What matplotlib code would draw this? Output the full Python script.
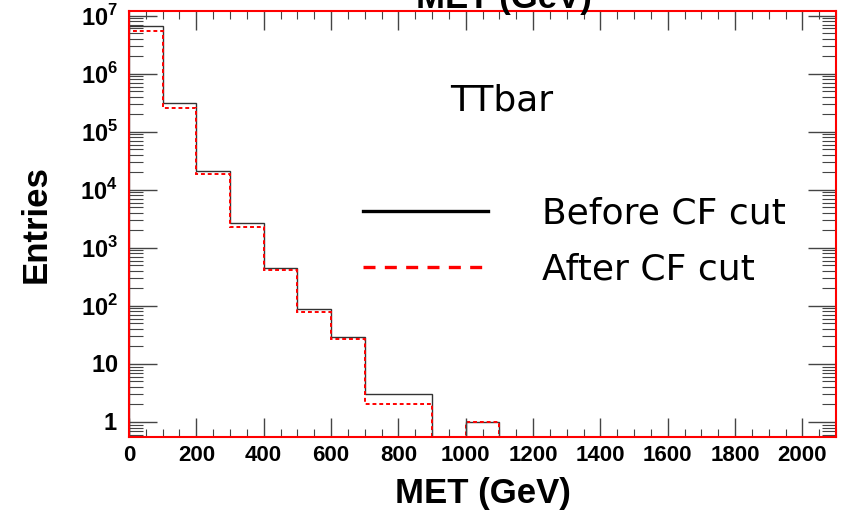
import numpy as np
import matplotlib
matplotlib.use('Agg')
import matplotlib.pyplot as plt
from matplotlib.lines import Line2D
from matplotlib.ticker import MultipleLocator, LogLocator, FuncFormatter, NullFormatter

plt.rcParams['font.family'] = ['Liberation Sans', 'DejaVu Sans']
plt.rcParams['mathtext.fontset'] = 'custom'
plt.rcParams['mathtext.rm'] = 'Liberation Sans'
plt.rcParams['mathtext.bf'] = 'Liberation Sans:bold'

# MET histogram, bins of 100 GeV from 0 to 2100
edges = np.arange(0, 2200, 100)
before_cut = [6.7e6, 3.1e5, 2.1e4, 2.7e3, 440, 88, 29, 3, 3, 0, 1,
              0, 0, 0, 0, 0, 0, 0, 0, 0, 0]
after_cut = [5.5e6, 2.6e5, 1.9e4, 2.3e3, 410, 79, 27, 2, 2, 0, 1,
             0, 0, 0, 0, 0, 0, 0, 0, 0, 0]
labels = ['Before CF cut', 'After CF cut']

fig = plt.figure(figsize=(8.42, 5.16), dpi=100)
ax = fig.add_axes([0.1532, 0.1531, 0.8397, 0.8256])

ax.stairs(before_cut, edges, color='#333333', lw=1.0)
ax.stairs(after_cut, edges, color='red', lw=1.4, linestyle=(0, (2, 1.5)))

ax.set_yscale('log')
ax.set_xlim(0, 2100)
ax.set_ylim(0.55, 1.2e7)

ax.xaxis.set_major_locator(MultipleLocator(200))
ax.xaxis.set_minor_locator(MultipleLocator(50))
ax.yaxis.set_major_locator(LogLocator(base=10, numticks=20))
ax.yaxis.set_minor_locator(LogLocator(base=10, subs=np.arange(2, 10), numticks=20))
ax.yaxis.set_minor_formatter(NullFormatter())


def ylab(v, pos):
    if v == 1:
        return r'$\mathbf{1}$'
    if v == 10:
        return r'$\mathbf{10}$'
    return r'$\mathbf{10}^{\mathbf{%d}}$' % round(np.log10(v))


ax.yaxis.set_major_formatter(FuncFormatter(ylab))

ax.tick_params(which='both', direction='in', top=True, right=True, color='#444444')
ax.tick_params(which='major', length=14, width=1.0)
ax.tick_params(which='minor', length=6, width=0.8)
ax.tick_params(axis='y', which='major', length=20)
ax.tick_params(axis='y', which='minor', length=10)
ax.tick_params(axis='x', labelsize=16, pad=6)
ax.tick_params(axis='y', labelsize=17, pad=8)
for lab in ax.get_xticklabels():
    lab.set_fontweight('bold')

for s in ax.spines.values():
    s.set_color('red')
    s.set_linewidth(1.5)

ax.set_xlabel('MET (GeV)', fontsize=25, fontweight='bold', labelpad=8)
ax.set_ylabel('Entries', fontsize=25, fontweight='bold', labelpad=20)

# cut-off title at the very top
fig.text(0.598, 0.985, 'MET (GeV)', fontsize=25, fontweight='bold',
         ha='center', va='baseline')

fig.text(0.534, 0.806, 'TTbar', fontsize=26, family='DejaVu Sans', va='center')

handles = [Line2D([], [], color='black', lw=2.4),
           Line2D([], [], color='red', lw=2.4, dashes=(3.6, 2.8))]
leg = ax.legend(handles, labels, loc='upper left', bbox_to_anchor=(0.331, 0.565),
                frameon=False, borderpad=0, borderaxespad=0,
                handlelength=3.46, handletextpad=1.5, labelspacing=0.61,
                prop={'family': 'DejaVu Sans', 'size': 26})

fig.savefig('out.png', dpi=100)
